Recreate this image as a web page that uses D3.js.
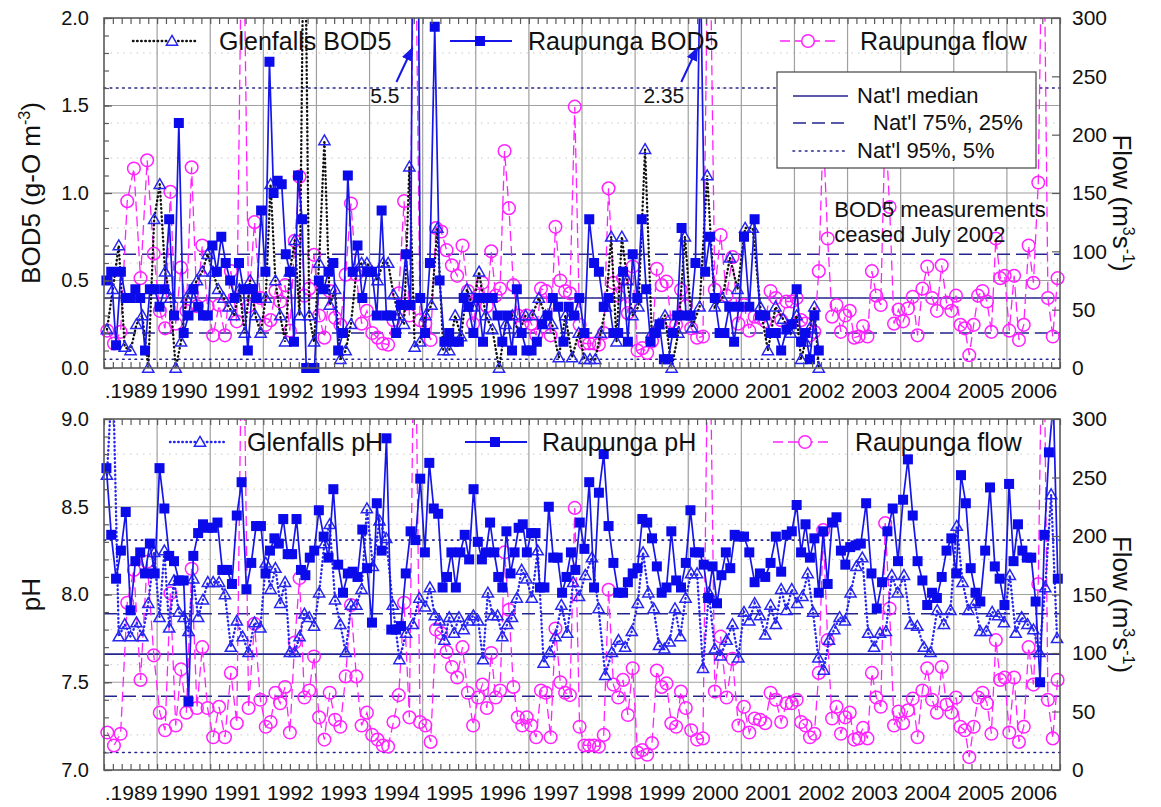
<!DOCTYPE html>
<html>
<head>
<meta charset="utf-8">
<script src="https://cdn.jsdelivr.net/npm/d3@7/dist/d3.min.js"></script>
<style>
html,body{margin:0;padding:0;background:#fff;}
svg{display:block;font-family:Arial,"Liberation Sans",Helvetica,sans-serif;}
</style>
</head>
<body>
<svg id="chart" width="1161" height="807"></svg>
<script>
// ================= DATA =================
const years = [1989,1990,1991,1992,1993,1994,1995,1996,1997,1998,1999,2000,2001,2002,2003,2004,2005,2006];
const yearLabels = [".1989","1990","1991","1992","1993","1994","1995","1996","1997","1998","1999","2000","2001","2002","2003","2004","2005","2006"];

// Samples per calendar year (in order of sampling date), 1989 ->
const bodRaupunga = [
  [0.5,0.55,0.13,0.55,0.4,0.4,0.45,0.4,0.1,0.45,0.45],
  [0.35,0.45,0.85,0.3,1.4,0.2,0.3,0.45,0.35,0.3,0.3],
  [0.7,0.55,0.75,0.6,0.5,0.4,0.6,0.45,0.1,0.45,0.4,0.9],
  [0.55,1.75,1.0,1.07,1.05,0.65,0.55,0.15,1.1,0.85,0.0,0.0,0.0],
  [0.5,0.45,0.55,0.6,0.1,0.2,1.1,0.55,0.7,0.4,0.55],
  [0.55,0.3,0.9,0.3,0.3,0.2,0.36,0.65,0.36,5.5,0.4],
  [0.2,0.6,1.95,0.5,0.15,0.2,0.15,0.15,0.4,0.35,0.2],
  [0.4,0.15,0.4,0.4,0.3,0.15,0.3,0.1,0.45,0.2,0.1],
  [0.1,0.15,0.25,0.3,0.4,0.35,0.15,0.35,0.3,0.4],
  [0.2,0.85,0.6,0.55,0.35,0.4,0.2,0.2,0.55,0.15,0.65],
  [0.4,0.85,0.45,0.15,0.2,0.25,0.05,0.05,0.2,0.3,0.8,0.3],
  [0.3,0.6,2.35,0.55,0.75,0.4,0.2,0.2,0.35,0.15,0.35],
  [0.75,0.35,0.85,0.3,0.3,0.2,0.2,0.1,0.22,0.25],
  [0.45,0.15,0.2,0.05,0.3,0.1,null,null,null,null,null,null]
];
const bodGlenfalls = [
  [0.22,0.45,0.7,0.12,0.1,0.25,0.3,0.0,0.85],
  [1.05,0.55,0.4,0.0,0.15,0.4,0.45,0.5,0.55,0.65],
  [0.55,0.45,0.4,0.35,0.3,0.45,0.2,0.5,0.3,0.2],
  [0.4,1.05,0.5,0.3,0.15,0.55,0.73,0.3,3.0,0.3,0.15],
  [0.6,1.3,0.36,0.45,0.05,0.1,0.25,0.55,0.6,0.6],
  [0.55,0.5,0.6,0.6,0.42,0.3,0.25,1.15,0.12,0.15],
  [0.3,0.36,0.8,0.1,0.1,0.3,0.18,0.45,0.35],
  [0.55,0.3,0.22,0.0,0.25,0.3,0.2,0.3],
  [0.3,0.4,0.3,0.25,0.06,0.3,0.06,0.2],
  [0.05,0.05,0.05,0.2,0.35,0.75,0.15,0.75,0.5,0.3],
  [0.35,1.25,0.2,0.25,0.3,0.0,0.2,0.75],
  [0.23,0.35,1.1,0.35,0.4,0.63,0.45],
  [0.8,0.8,0.35,0.1,0.35,0.28,0.2],
  [0.3,0.05,0.15,0.23,0.35,0.0,null,null,null,null,null,null]
];
const flowRaupunga = [
  [32,21,31,143,171,77,178,98],
  [49,34,151,38,86,49,172,53,105,53],
  [28,54,28,83,40,450,53,125,60],
  [37,41,66,57,71,32,109,164,62,68,97],
  [45,26,66,43,37,80,141,80,38,49],
  [30,26,21,20,41,64,143,45,450,41],
  [38,24,120,117,101,88,79,105,66,38],
  [62,73,53,100,62,68,186,137,71,45,38,45],
  [38,28,68,66,28,121,75,66,64,224,37],
  [21,21,21,20,30,154,73,62,77,47,87],
  [15,17,13,23,85,71,74,40,37,67,53],
  [34,26,27,450,67,114,62,95,38],
  [54,32,44,43,40,66,60,41,57,57],
  [60,41,38,28,31,83,205,111,44,54,31,45],
  [49,26,27,36,27,83,62,54,211,138,38,50],
  [40,51,61,28,68,87,60,49,88,56,49],
  [62,37,34,11,37,62,66,57,31,111,77,79],
  [32,79,24,37,105,73,159,450,60,27,77]
];
const phRaupunga = [
  [8.72,8.34,8.09,8.25,8.47,7.91,8.19,8.24,8.12,8.29,8.12],
  [8.72,8.49,8.22,8.19,8.08,8.08,7.39,8.22,8.35,8.40,8.38],
  [8.38,8.41,8.14,8.14,8.06,8.45,8.64,8.03,8.18,8.39,8.39],
  [8.12,8.25,8.32,8.29,8.43,8.23,8.23,8.43,8.14,8.11,8.21,8.25],
  [8.48,8.33,8.21,8.60,8.17,8.01,8.12,8.13,8.10,8.37,8.15],
  [7.84,8.52,8.25,8.89,7.80,7.80,7.82,8.12,8.36,8.31,8.66],
  [8.24,8.75,8.49,8.46,8.04,8.10,8.24,8.04,8.24,8.34,8.20,8.60],
  [8.30,8.20,8.24,8.41,8.24,8.10,8.04,8.36,8.12,8.24,8.38,8.40,8.24],
  [8.35,8.35,8.04,8.04,8.50,8.21,8.21,8.01,8.10,8.24,8.14,8.41],
  [8.26,8.64,8.04,8.58,8.80,8.39,8.18,8.01,8.01,8.07,8.12],
  [8.15,8.43,8.41,8.32,8.16,8.01,8.04,8.36,8.08,8.04,8.18],
  [8.48,8.24,8.24,8.17,7.98,8.16,7.95,8.11,8.24,8.15,8.34,8.33],
  [8.33,8.24,8.07,8.12,8.10,8.18,8.33,8.13,8.34,8.36],
  [8.51,8.24,8.40,8.21,8.32,8.01,8.36,8.06,8.41,8.44,8.25,8.17],
  [8.27,8.28,8.29,8.52,8.12,7.92,8.07,8.36,8.49,8.19],
  [8.54,8.77,8.45,8.19,8.08,7.94,8.01,7.98,8.10,8.25,8.32],
  [8.12,8.68,8.52,8.15,8.01,7.96,8.25,8.61,8.16,8.09,7.94],
  [8.63,8.19,8.40,8.25,8.21,8.21,7.96,7.50,8.34,8.81,9.1,8.09]
];
const phGlenfalls = [
  [8.68,9.3,7.76,7.83,7.76,7.84,7.76,7.95,8.24],
  [7.87,8.25,7.81,8.08,7.90,7.87,7.79,8.09,7.87,7.97,8.07],
  [8.07,8.07,8.0,7.70,7.85,7.76,7.67,7.84,7.81],
  [8.18,8.03,8.15,7.95,8.07,7.67,7.67,7.76,7.89,7.87,7.82],
  [8.01,8.29,8.40,7.97,7.83,7.67,7.94,7.94,8.03,8.49],
  [8.16,8.42,8.32,7.94,7.63,7.78,7.83,7.98],
  [7.93,8.04,7.88,7.85,7.74,7.87,7.78,7.87,7.80,7.85,7.88],
  [7.85,7.63,8.01,7.88,7.88,7.76,7.83,7.87,7.98,8.14,8.09],
  [7.98,8.25,7.61,7.67,7.76,7.94,7.78,8.07,7.99],
  [8.11,8.21,7.92,7.54,7.67,7.74,7.70,7.79],
  [7.95,8.24,8.01,7.92,7.71,7.69,7.73,7.92,7.76,7.98],
  [8.12,8.12,7.58,8.01,7.69,7.65,7.74,7.83,7.64],
  [7.90,7.85,7.95,7.88,7.77,7.94,7.83,8.03,7.91,8.03],
  [7.95,7.99,8.12,7.90,7.64,7.57,7.74,7.80,7.87,7.85],
  [8.01,8.16,8.21,7.78,7.70,7.78,7.79,8.11,8.01],
  [8.11,7.83,7.82,7.70,7.67,7.91,7.83,7.91],
  [8.39,8.07,7.91,7.95,7.79,7.79,7.90,7.88,7.84],
  [8.11,7.78,7.87,7.83,7.80,7.67,8.04,8.57,7.75]
];
// National percentiles: 5%, 25%, median, 75%, 95%
const bodNatl = [0.05,0.20,0.40,0.65,1.60];
const phNatl = [7.10,7.42,7.66,7.89,8.31];
const natlLabels = ["Nat'l median","Nat'l 75%, 25%","Nat'l 95%, 5%"];
const bodTicks = [0,0.5,1.0,1.5,2.0];
const phTicks = [7.0,7.5,8.0,8.5,9.0];
const flowTicks = [0,50,100,150,200,250,300];

// ================= RENDER =================
const C = {blue:"#1616e8", sq:"#0a0aea", tri:"#2626f0", mag:"#ff22ff", natl:"#24248e",
  grid:"#a0a0a0", frame:"#5a5a5a", black:"#111", text:"#111"};
const svg = d3.select("#chart");
const X0 = 104, X1 = 1060;
const x = d3.scaleLinear().domain([1989, 2007]).range([X0, X1]);

function expand(rows){
  const out = [];
  rows.forEach((vals,i)=>{
    const n = vals.length;
    vals.forEach((v,j)=>{ if(v!==null) out.push({t: years[i] + (j+0.5)/n, v}); });
  });
  return out;
}
const triPath = "M0,-5.6L5.6,4.2L-5.6,4.2Z";
const natlStyle = ["1.6,4.6","13,6",null,"13,6","1.6,4.6"];

const defs = svg.append("defs");
defs.append("marker").attr("id","arrow").attr("viewBox","0 0 10 10").attr("refX",9).attr("refY",5)
  .attr("markerWidth",7).attr("markerHeight",7).attr("orient","auto-start-reverse")
  .append("path").attr("d","M0,1L10,5L0,9Z").attr("fill",C.blue);

function panel(cfg){
  const g = svg.append("g");
  const y = d3.scaleLinear().domain(cfg.dom).range([cfg.bottom, cfg.top]);
  const yF = d3.scaleLinear().domain([0,300]).range([cfg.bottom, cfg.top]);
  defs.append("clipPath").attr("id","clip"+cfg.id).append("rect")
    .attr("x",X0).attr("y",cfg.top).attr("width",X1-X0).attr("height",cfg.bottom-cfg.top);

  // faint dotted minor grid
  const minorVals = d3.range(1,10).map(k=>cfg.dom[0]+k*(cfg.dom[1]-cfg.dom[0])/10);
  g.append("g").selectAll("line").data(minorVals.filter((v,k)=>k%5!==4)).join("line")
    .attr("x1",X0).attr("x2",X1).attr("y1",d=>y(d)).attr("y2",d=>y(d))
    .attr("stroke","#c8c8c8").attr("stroke-width",1).attr("stroke-dasharray","1.5,5");
  // year grid
  g.append("g").selectAll("line").data(years.slice(1)).join("line")
    .attr("x1",d=>x(d)).attr("x2",d=>x(d)).attr("y1",cfg.top).attr("y2",cfg.bottom)
    .attr("stroke",C.grid).attr("stroke-width",1.2);
  // major horizontal grid
  g.append("g").selectAll("line").data(cfg.ticks.slice(1,-1)).join("line")
    .attr("x1",X0).attr("x2",X1).attr("y1",d=>y(d)).attr("y2",d=>y(d))
    .attr("stroke",C.grid).attr("stroke-width",1.2);
  // national lines
  g.append("g").selectAll("line").data(cfg.natl).join("line")
    .attr("x1",X0).attr("x2",X1).attr("y1",d=>y(d)).attr("y2",d=>y(d))
    .attr("stroke",C.natl).attr("stroke-width",1.6)
    .attr("stroke-dasharray",(d,i)=>natlStyle[i]).attr("stroke-linecap",(d,i)=>i===0||i===4?"round":"butt");

  const clip = "url(#clip"+cfg.id+")";
  // flow
  const fl = expand(flowRaupunga);
  g.append("path").datum(fl).attr("clip-path",clip)
    .attr("d",d3.line().x(d=>x(d.t)).y(d=>yF(d.v)))
    .attr("fill","none").attr("stroke",C.mag).attr("stroke-width",1.3).attr("stroke-dasharray","10,5");
  g.append("g").selectAll("circle").data(fl.filter(d=>d.v<=300)).join("circle")
    .attr("cx",d=>x(d.t)).attr("cy",d=>yF(d.v)).attr("r",6.3)
    .attr("fill","none").attr("stroke",C.mag).attr("stroke-width",1.5);
  // glenfalls
  const gl = expand(cfg.glen);
  g.append("path").datum(gl).attr("clip-path",clip)
    .attr("d",d3.line().x(d=>x(d.t)).y(d=>y(d.v)))
    .attr("fill","none").attr("stroke",cfg.glenLine).attr("stroke-width",2.4)
    .attr("stroke-dasharray","0.5,3.6").attr("stroke-linecap","round");
  g.append("g").selectAll("path").data(gl.filter(d=>d.v<=cfg.dom[1])).join("path")
    .attr("d",triPath).attr("transform",d=>`translate(${x(d.t)},${y(d.v)})`)
    .attr("fill","none").attr("stroke",C.tri).attr("stroke-width",1.5);
  // raupunga
  const ra = expand(cfg.raup);
  g.append("path").datum(ra).attr("clip-path",clip)
    .attr("d",d3.line().x(d=>x(d.t)).y(d=>y(d.v)))
    .attr("fill","none").attr("stroke",C.blue).attr("stroke-width",1.7);
  g.append("g").selectAll("rect").data(ra.filter(d=>d.v<=cfg.dom[1])).join("rect")
    .attr("x",d=>x(d.t)-5).attr("y",d=>y(d.v)-5).attr("width",10).attr("height",10)
    .attr("fill",C.sq);

  // frame
  g.append("rect").attr("x",X0).attr("y",cfg.top).attr("width",X1-X0).attr("height",cfg.bottom-cfg.top)
    .attr("fill","none").attr("stroke",C.frame).attr("stroke-width",1.6);

  const style = a=>{ a.select(".domain").remove(); a.selectAll("line").attr("stroke",C.frame).attr("stroke-width",1.2);
    a.selectAll("text").attr("fill",C.text).attr("font-family","Arial, 'Liberation Sans', sans-serif"); };
  // left axis
  g.append("g").attr("transform",`translate(${X0},0)`)
    .call(d3.axisLeft(y).tickValues(cfg.ticks).tickFormat(d3.format(".1f")).tickSizeInner(-8).tickSizeOuter(0).tickPadding(15))
    .call(style).call(a=>a.selectAll("text").attr("font-size",20));
  g.append("g").attr("transform",`translate(${X0},0)`)
    .call(d3.axisLeft(y).tickValues(d3.range(0,21).map(k=>cfg.dom[0]+k*(cfg.dom[1]-cfg.dom[0])/20)).tickFormat("").tickSizeInner(-5).tickSizeOuter(0))
    .call(style);
  // right axis
  g.append("g").attr("transform",`translate(${X1},0)`)
    .call(d3.axisRight(yF).tickValues(flowTicks).tickFormat(d3.format("d")).tickSizeInner(-8).tickSizeOuter(0).tickPadding(12))
    .call(style).call(a=>a.selectAll("text").attr("font-size",21));
  // bimonthly ticks top and bottom
  const bim = d3.range(0,109).map(k=>1989+k/6);
  g.append("g").attr("transform",`translate(0,${cfg.bottom})`)
    .call(d3.axisBottom(x).tickValues(bim).tickFormat("").tickSizeInner(-6).tickSizeOuter(0)).call(style);
  g.append("g").attr("transform",`translate(0,${cfg.top})`)
    .call(d3.axisTop(x).tickValues(bim).tickFormat("").tickSizeInner(-6).tickSizeOuter(0)).call(style);
  // year labels
  g.append("g").attr("transform",`translate(0,${cfg.bottom})`)
    .call(d3.axisBottom(x).tickValues(years.map(v=>v+0.5)).tickFormat((d,i)=>yearLabels[i]).tickSize(0).tickPadding(15))
    .call(style).call(a=>a.selectAll("text").attr("font-size",21));

  // axis titles
  const lt = g.append("text").attr("transform",`translate(40,${(cfg.top+cfg.bottom)/2}) rotate(-90)`)
    .attr("text-anchor","middle").attr("font-size",26).attr("fill",C.text);
  cfg.leftTitle(lt);
  const rt = g.append("text").attr("transform",`translate(1113,${(cfg.top+cfg.bottom)/2 + 10}) rotate(90)`)
    .attr("text-anchor","middle").attr("font-size",26).attr("fill",C.text);
  rt.append("tspan").text("Flow (m");
  rt.append("tspan").attr("font-size",16).attr("dy",-10).text("3");
  rt.append("tspan").attr("dy",10).text("s");
  rt.append("tspan").attr("font-size",16).attr("dy",-10).text("-1");
  rt.append("tspan").attr("dy",10).text(")");

  // series legend
  const ly = cfg.top + 23;
  cfg.legend.forEach(it=>{
    const lg = g.append("g");
    const ln = lg.append("line").attr("x1",it.x1).attr("x2",it.x2).attr("y1",ly).attr("y2",ly);
    if(it.kind==="glen"){
      ln.attr("stroke",cfg.glenLine).attr("stroke-width",2.4).attr("stroke-dasharray","0.5,3.6").attr("stroke-linecap","round");
      lg.append("path").attr("d",triPath).attr("transform",`translate(${it.mx},${ly})`).attr("fill","#fff").attr("stroke",C.tri).attr("stroke-width",1.5);
    } else if(it.kind==="raup"){
      ln.attr("stroke",C.blue).attr("stroke-width",1.8);
      lg.append("rect").attr("x",it.mx-5).attr("y",ly-5).attr("width",10).attr("height",10).attr("fill",C.sq);
    } else {
      ln.attr("stroke",C.mag).attr("stroke-width",1.4).attr("stroke-dasharray","10,5");
      lg.append("circle").attr("cx",it.mx).attr("cy",ly).attr("r",6.3).attr("fill","#fff").attr("stroke",C.mag).attr("stroke-width",1.5);
    }
    lg.append("text").attr("x",it.tx).attr("y",ly+9).attr("font-size",25).attr("fill",C.text).text(it.label);
  });
  return {y, yF, g};
}

const topP = panel({id:"t", top:18, bottom:368, dom:[0,2], ticks:bodTicks, natl:bodNatl,
  glen:bodGlenfalls, raup:bodRaupunga, glenLine:C.black,
  leftTitle: t=>{ t.append("tspan").text("BOD5 (g-O m"); t.append("tspan").attr("font-size",16).attr("dy",-10).text("-3"); t.append("tspan").attr("dy",10).text(")"); },
  legend:[{x1:133,x2:198,mx:172,tx:219,label:"Glenfalls BOD5",kind:"glen"},
          {x1:450,x2:512,mx:480,tx:528,label:"Raupunga BOD5",kind:"raup"},
          {x1:780,x2:837,mx:808,tx:860,label:"Raupunga flow",kind:"flow"}]});

const botP = panel({id:"b", top:419, bottom:770, dom:[7,9], ticks:phTicks, natl:phNatl,
  glen:phGlenfalls, raup:phRaupunga, glenLine:C.tri,
  leftTitle: t=>{ t.append("tspan").text("pH"); },
  legend:[{x1:170,x2:226,mx:200,tx:247,label:"Glenfalls pH",kind:"glen"},
          {x1:465,x2:527,mx:495,tx:542,label:"Raupunga pH",kind:"raup"},
          {x1:773,x2:830,mx:805,tx:855,label:"Raupunga flow",kind:"flow"}]});

// National legend box (top panel)
{
  const g = topP.g.append("g");
  const bx = 777, by = 72, bw = 259, bh = 96;
  g.append("rect").attr("x",bx).attr("y",by).attr("width",bw).attr("height",bh)
    .attr("fill","#fff").attr("stroke","#444").attr("stroke-width",1.2);
  const rows = [{dash:null, y:96, tx:857},{dash:"13,6", y:123, tx:873},{dash:"1.6,4.6", y:151, tx:857}];
  rows.forEach((r,i)=>{
    g.append("line").attr("x1",793).attr("x2",848).attr("y1",r.y).attr("y2",r.y)
      .attr("stroke",C.natl).attr("stroke-width",1.6).attr("stroke-dasharray",r.dash).attr("stroke-linecap",i===2?"round":"butt");
    g.append("text").attr("x",r.tx).attr("y",r.y+7).attr("font-size",22).attr("fill",C.text).text(natlLabels[i]);
  });
}

// Off-scale annotations
{
  const ra = expand(bodRaupunga);
  const s1 = ra.find(d=>d.v===5.5), s2 = ra.find(d=>d.v===2.35);
  [[s1,"5.5"],[s2,"2.35"]].forEach(([s,lab])=>{
    const tipX = x(s.t) - 3, tipY = topP.y(2) + 30;
    topP.g.append("line").attr("x1",tipX-16).attr("y1",tipY+34).attr("x2",tipX).attr("y2",tipY)
      .attr("stroke",C.blue).attr("stroke-width",2).attr("marker-end","url(#arrow)");
    topP.g.append("text").attr("x",tipX-13).attr("y",tipY+55).attr("text-anchor","end")
      .attr("font-size",21).attr("fill",C.text).text(lab);
  });
  const tx = x(2002.75);
  topP.g.append("text").attr("x",tx).attr("y",217).attr("font-size",22).attr("fill",C.text).text("BOD5 measurements");
  topP.g.append("text").attr("x",tx).attr("y",242).attr("font-size",22).attr("fill",C.text).text("ceased July 2002");
}
</script>
</body>
</html>
